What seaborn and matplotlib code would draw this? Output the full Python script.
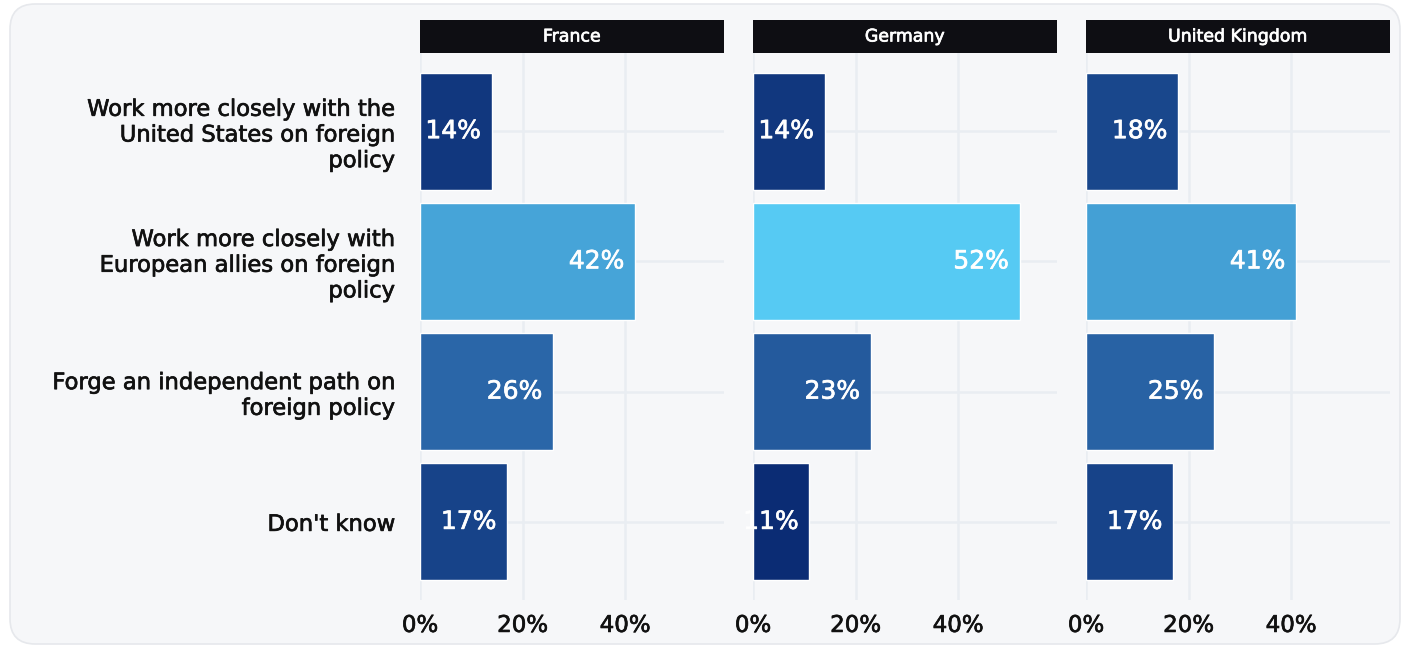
import numpy as np
import pandas as pd
import seaborn as sns
import matplotlib.pyplot as plt
import matplotlib.patheffects as pe
from matplotlib.colors import LinearSegmentedColormap, Normalize
from matplotlib.patches import FancyBboxPatch, Rectangle

countries = ['France', 'Germany', 'United Kingdom']
answers = [
    'Work more closely with the\nUnited States on foreign\npolicy',
    'Work more closely with\nEuropean allies on foreign\npolicy',
    'Forge an independent path on\nforeign policy',
    "Don't know",
]
france = [14, 42, 26, 17]
germany = [14, 52, 23, 11]
uk = [18, 41, 25, 17]

rows = []
for country, vals in zip(countries, [france, germany, uk]):
    for a, v in zip(answers, vals):
        rows.append({'country': country, 'answer': a, 'value': v})
df = pd.DataFrame(rows)

sns.set_theme(style='white')
plt.rcParams['font.family'] = ['DejaVu Sans']

# colour scale on value, dark navy -> light cyan
cmap = LinearSegmentedColormap.from_list(
    'blues', [(0.0, '#0b2c74'), (0.366, '#2a66a8'), (0.756, '#46a4d8'), (1.0, '#56caf3')])
norm = Normalize(11, 52)

BG = '#f6f7f9'
GRID = '#e9edf2'
INK = '#111111'


def thicken(color):
    # DejaVu Book is a bit light next to the original medium weight
    return [pe.withStroke(linewidth=0.5, foreground=color)]


fig = plt.figure(figsize=(14.03, 6.48), dpi=100)
fig.patch.set_facecolor('white')
fig.patches.append(FancyBboxPatch((10 / 1403, 4 / 648), 1390 / 1403, 640 / 648,
                                  boxstyle='round,pad=0,rounding_size=0.018',
                                  transform=fig.transFigure, facecolor=BG,
                                  edgecolor='#e6e8ec', lw=1.2, zorder=-10,
                                  mutation_aspect=1403 / 648))

lefts = [420, 753, 1086]
for i, (left, country) in enumerate(zip(lefts, countries)):
    ax = fig.add_axes([left / 1403, 48 / 648, 304 / 1403, 547 / 648])
    ax.set_facecolor('none')
    sub = df[df['country'] == country]
    colors = [cmap(norm(v)) for v in sub['value']]
    sns.barplot(data=sub, x='value', y='answer', hue='answer', palette=colors,
                legend=False, ax=ax, width=0.9, saturation=1, zorder=3)
    for j, v in enumerate(sub['value']):
        ax.text(v - 2.1, j, f'{v}%', ha='right', va='center', color='white',
                fontsize=18, zorder=4, path_effects=thicken('white'))
    ax.set_xlim(0, 59.3)
    ax.set_ylim(3.6, -0.6)
    ax.set_xticks([0, 20, 40])
    ax.set_xticklabels(['0%', '20%', '40%'])
    ax.set_xlabel('')
    ax.set_ylabel('')
    ax.grid(True, color=GRID, lw=1.8, zorder=0)
    ax.set_axisbelow(True)
    for s in ax.spines.values():
        s.set_visible(False)
    ax.tick_params(axis='x', length=0, pad=10, labelsize=16.5, labelcolor=INK)
    ax.tick_params(axis='y', length=0, pad=18, labelsize=16.3, labelcolor=INK)
    for t in ax.get_xticklabels():
        t.set_path_effects(thicken(INK))
    if i == 0:
        for t in ax.get_yticklabels():
            t.set_ha('right')
            t.set_multialignment('right')
            t.set_linespacing(1.15)
            t.set_path_effects(thicken(INK))
    else:
        ax.set_yticklabels([])
    # header strip
    ax.add_patch(Rectangle((0, 1), 1, 33 / 547, transform=ax.transAxes,
                           facecolor='#0e0e13', edgecolor='none', clip_on=False, zorder=5))
    ax.text(0.5, 1 + 16.5 / 547, country, transform=ax.transAxes, ha='center',
            va='center', color='white', fontsize=12.5, zorder=6,
            path_effects=thicken('white'))

fig.savefig('out.png', dpi=100, facecolor=fig.get_facecolor())
